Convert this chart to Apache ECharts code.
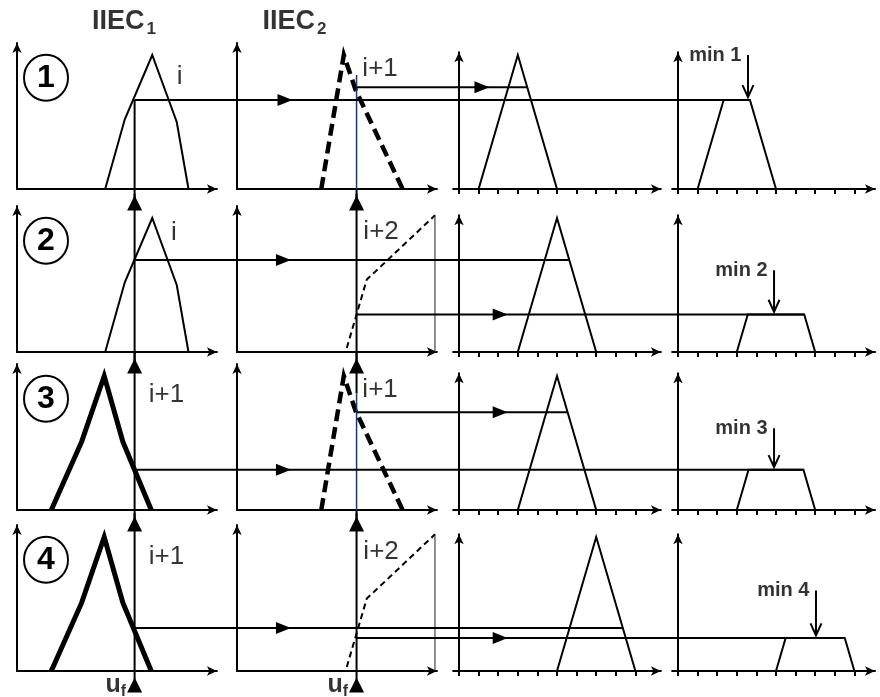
<!DOCTYPE html>
<html><head><meta charset="utf-8">
<script src="https://cdn.jsdelivr.net/npm/echarts@6/dist/echarts.min.js"></script>
<style>html,body{margin:0;padding:0;background:#fff}#c{width:880px;height:697px}</style>
</head><body><div id="c"></div>
<script>
// ---------------- data ----------------
const titleTexts = ['IIEC', 'IIEC'];
const titleSubscripts = ['1', '2'];
const rowNumbers = ['1', '2', '3', '4'];
const col1Labels = ['i', 'i', 'i+1', 'i+1'];
const col2Labels = ['i+1', 'i+2', 'i+1', 'i+2'];
const minLabels = ['min 1', 'min 2', 'min 3', 'min 4'];
const ufText = ['u', 'f'];

// IIEC1 terms (x, membership)
const termI  = [[4.5,0],[5.5,0.52],[6.9,1],[8.15,0.5],[8.75,0]];
const termI1 = [[1.75,0],[3.3,0.51],[4.45,1],[5.4,0.51],[6.85,0]];
const col1Terms = [termI, termI, termI1, termI1];
const col1Bold = [false, false, true, true];
// IIEC2 terms
const termDash = [[4.3,0],[5.45,1],[6.05,0.74],[8.45,0]];
const termS = [[5.6,0.03],[6.62,0.54],[10.1,1.02]];
const termSEdge = [[10.1,1.02],[10.1,0]];
const col2Kind = ['dash', 's', 'dash', 's'];
// output triangles per row
const outLeft  = [1, 3, 3, 5];
const outPeak  = [3, 5, 5, 7];
const outRight = [5, 7, 7, 9];
// crisp inputs
const ufIIEC1 = 6.0;
const ufIIEC2 = 6.1;
// membership degrees at the crisp input
const degree1 = [0.665, 0.687, 0.30, 0.32];
const degree2 = [0.76, 0.28, 0.73, 0.246];
// annotation positions
const arrowInCol2 = [2.45, 2.37, 2.37, 2.37];
const arrowInCol3 = [1.17, 2.1, 2.1, 2.1];
const minArrowX = [3.57, 4.9, 4.9, 7.04];
const minArrowTop = [1.0, 0.61, 0.61, 0.60];
const col1LabelPos = [[8.3,0.84],[8.0,0.89],[7.63,0.86],[7.63,0.85]];
const col2LabelPos = [[7.3,0.9],[7.35,0.9],[7.3,0.9],[7.35,0.89]];
const circlePos = [1.48, 0.83];
const titlePos = [[3.8,1.25],[1.27,1.25]];
const tickValues = [0,1,2,3,4,5,6,7,8,9];

// ---------------- layout ----------------
const UNIT = 19.6, ROWH = 134;
const colOrigin = [17, 237, 459, 678];
const rowBase = [189, 352, 510, 671];
const colXMin = [0, 0, -0.3, -0.3];
const colXMax = [10.2, 10.2, 10.3, 10.05];
const colYMax = [1.09, 1.09, 1.02, 1.02];
const FONT = 'Liberation Sans';
const BELOW = -0.105, ABOVE = 1.18;

const grid = [], xAxis = [], yAxis = [], series = [];
const gi = (r, c) => r * 4 + c;
const ov = r => 16 + r;           // full-width overlay grid of a row (units of column 1)
const inCol = (x, from, to) => x + (colOrigin[from] - colOrigin[to]) / UNIT;

const axisLine = {show: true, onZero: true, symbol: ['none', 'arrow'], symbolSize: [7, 10],
  lineStyle: {color: '#000', width: 2}};
for (let r = 0; r < 4; r++) {
  for (let c = 0; c < 4; c++) {
    const idx = gi(r, c);
    grid.push({left: colOrigin[c] + colXMin[c] * UNIT, top: rowBase[r] - colYMax[c] * ROWH,
      width: (colXMax[c] - colXMin[c]) * UNIT, height: colYMax[c] * ROWH});
    xAxis.push({gridIndex: idx, type: 'value', min: colXMin[c], max: colXMax[c], axisLine,
      axisTick: {show: c >= 2, customValues: tickValues, length: 5, lineStyle: {color: '#000', width: 2}},
      axisLabel: {show: false}, splitLine: {show: false}});
    yAxis.push({gridIndex: idx, type: 'value', min: 0, max: colYMax[c], axisLine,
      axisTick: {show: false}, axisLabel: {show: false}, splitLine: {show: false}});
  }
}
const ovMax = (880 - colOrigin[0]) / UNIT;
for (let r = 0; r < 4; r++) {
  const idx = ov(r);
  grid.push({left: colOrigin[0], top: rowBase[r] - colYMax[0] * ROWH, width: ovMax * UNIT, height: colYMax[0] * ROWH});
  xAxis.push({gridIndex: idx, type: 'value', min: 0, max: ovMax, show: false});
  yAxis.push({gridIndex: idx, type: 'value', min: 0, max: colYMax[0], show: false});
}

function line(idx, data, o = {}) {
  series.push({type: 'line', xAxisIndex: idx, yAxisIndex: idx, data, symbol: 'none', clip: false,
    silent: true, animation: false, z: o.z || 3,
    lineStyle: {color: o.color || '#000', width: o.width || 2, type: o.type || 'solid', cap: 'butt', join: 'miter'}});
}
function marker(idx, pt, symbol, size, rotate) {
  series.push({type: 'scatter', xAxisIndex: idx, yAxisIndex: idx, data: [pt], symbol, symbolSize: size,
    symbolRotate: rotate || 0, itemStyle: {color: '#000', opacity: 1}, silent: true, animation: false, clip: false, z: 5});
}
function text(idx, pt, txt, label) {
  series.push({type: 'scatter', xAxisIndex: idx, yAxisIndex: idx, data: [pt], symbolSize: 1,
    itemStyle: {color: 'rgba(0,0,0,0)'}, silent: true, animation: false, clip: false, z: 10,
    label: Object.assign({show: true, color: '#000', fontFamily: FONT, formatter: () => txt}, label)});
}

// titles
for (let k = 0; k < 2; k++) {
  text(gi(0, k), titlePos[k], '{big|' + titleTexts[k] + '}{sub|' + titleSubscripts[k] + '}', {
    position: 'right', distance: 0,
    rich: {big: {fontSize: 27, fontWeight: 'bold', fontFamily: FONT, color: '#000'},
           sub: {fontSize: 17, fontWeight: 'bold', fontFamily: FONT, color: '#000', padding: [16, 0, 0, 2]}}});
}

for (let r = 0; r < 4; r++) {
  const g1 = gi(r, 0), g2 = gi(r, 1), g3 = gi(r, 2), g4 = gi(r, 3), go = ov(r);
  const d1 = degree1[r], d2 = degree2[r], m = Math.min(d1, d2);
  const L = outLeft[r], P = outPeak[r], R = outRight[r];
  const rightAt = lv => R - (R - P) * lv;

  // row number circle
  series.push({type: 'scatter', xAxisIndex: g1, yAxisIndex: g1, data: [circlePos], symbol: 'circle',
    symbolSize: [44, 46], itemStyle: {color: '#fff', borderColor: '#000', borderWidth: 2, opacity: 1},
    silent: true, animation: false, z: 6,
    label: {show: true, position: 'inside', formatter: () => rowNumbers[r], fontFamily: FONT,
      fontWeight: 'bold', fontSize: 32, color: '#000'}});

  // IIEC1 term
  line(g1, col1Terms[r], {width: col1Bold[r] ? 5 : 2});
  text(g1, col1LabelPos[r], col1Labels[r], {position: 'inside', fontSize: 26});

  // IIEC2 term
  if (col2Kind[r] === 'dash') {
    line(g2, termDash, {width: 4.5, type: [12, 6]});
  } else {
    line(g2, termS, {width: 2, type: [6, 4]});
    line(g2, termSEdge, {width: 1, color: '#222'});
  }
  text(g2, col2LabelPos[r], col2Labels[r], {position: 'inside', fontSize: 26});

  // crisp input verticals
  line(g1, [[ufIIEC1, r === 0 ? d1 : ABOVE], [ufIIEC1, BELOW]]);
  marker(g1, [ufIIEC1, BELOW], 'triangle', [15, 15]);
  if (col2Kind[r] === 'dash') {
    if (r > 0) line(g2, [[ufIIEC2, ABOVE], [ufIIEC2, 0.87]]);
    line(g2, [[ufIIEC2, r === 0 ? 0.85 : 0.87], [ufIIEC2, 0]], {width: 1.5, color: '#1f3864'});
    line(g2, [[ufIIEC2, 0], [ufIIEC2, BELOW]]);
  } else {
    line(g2, [[ufIIEC2, ABOVE], [ufIIEC2, BELOW]]);
  }
  marker(g2, [ufIIEC2, BELOW], 'triangle', [15, 15]);

  // output triangle (col 3) and clipped output (col 4)
  line(g3, [[L, 0], [P, 1], [R, 0]]);
  line(g4, [[L, 0], [L + (P - L) * m, m], [R - (R - P) * m, m], [R, 0]]);

  // horizontal transfer lines (drawn in the row overlay, units of column 1)
  const end1 = inCol(rightAt(d1), d1 === m ? 3 : 2, 0);
  line(go, [[ufIIEC1, d1], [end1, d1]]);
  const end2 = inCol(rightAt(d2), d2 === m ? 3 : 2, 0);
  line(go, [[inCol(ufIIEC2, 1, 0), d2], [end2, d2]]);
  marker(g2, [arrowInCol2[r], d1], 'triangle', [12, 15], -90);
  marker(g3, [arrowInCol3[r], d2], 'triangle', [12, 15], -90);

  // min arrow
  const tip = m + 0.02, ax = minArrowX[r];
  line(g4, [[ax, minArrowTop[r]], [ax, tip]]);
  line(g4, [[ax - 0.28, tip + 0.09], [ax, tip], [ax + 0.28, tip + 0.09]]);
  text(g4, [ax, minArrowTop[r]], minLabels[r], {position: 'left', distance: 6, fontSize: 20, fontWeight: 'bold'});
}

// u_f labels
for (let k = 0; k < 2; k++) {
  text(gi(3, k), [k === 0 ? ufIIEC1 : ufIIEC2, BELOW], '{u|' + ufText[0] + '}{f|' + ufText[1] + '}', {
    position: 'left', distance: 8,
    rich: {u: {fontSize: 25, fontWeight: 'bold', fontFamily: FONT, color: '#000'},
           f: {fontSize: 16, fontWeight: 'bold', fontFamily: FONT, color: '#000', padding: [14, 0, 0, 0]}}});
}

const chart = echarts.init(document.getElementById('c'), null, {renderer: 'canvas'});
chart.setOption({animation: false, backgroundColor: '#fff', grid, xAxis, yAxis, series});
</script></body></html>
